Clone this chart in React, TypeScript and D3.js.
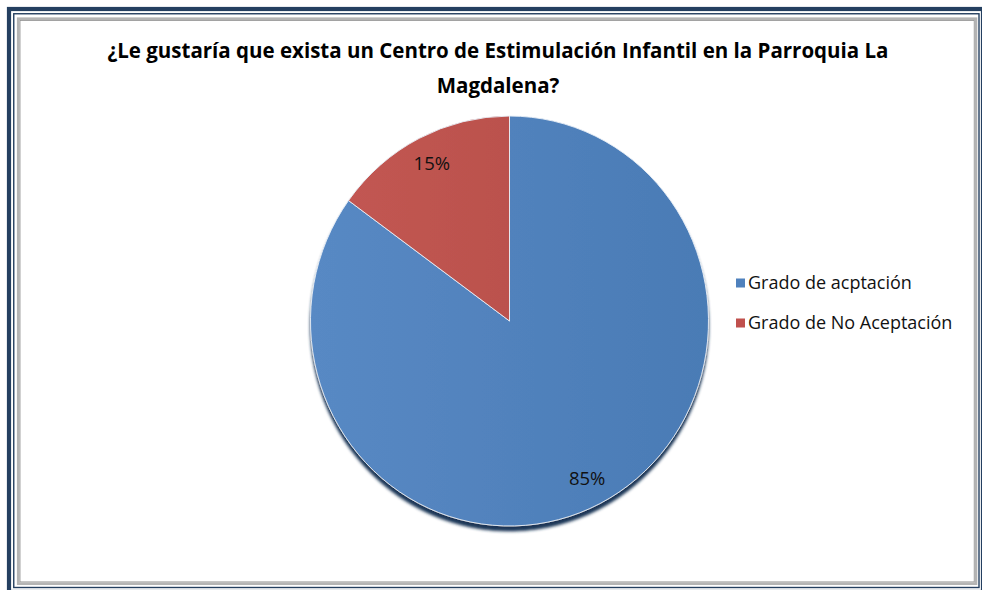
import React from "react";
import * as d3 from "d3";

const titleLines = [
  "¿Le gustaría que exista un Centro de Estimulación Infantil en la Parroquia La",
  "Magdalena?",
];
const categories = ["Grado de acptación", "Grado de No Aceptación"];
const values = [85, 15];
const colors = ["#4f81bd", "#c0504d"];

const W = 982,
  H = 590;

const App = () => {
  const ref = React.useRef<SVGSVGElement | null>(null);

  React.useEffect(() => {
    document.body.style.margin = "0";
    const svg = d3.select(ref.current);
    svg.selectAll("*").remove();

    const defs = svg.append("defs");
    const grad = defs
      .append("linearGradient")
      .attr("id", "blueGrad")
      .attr("x1", "0%")
      .attr("y1", "0%")
      .attr("x2", "100%")
      .attr("y2", "0%");
    grad.append("stop").attr("offset", "0%").attr("stop-color", "#5889c4");
    grad.append("stop").attr("offset", "100%").attr("stop-color", "#4a7bb5");
    const gradR = defs
      .append("linearGradient")
      .attr("id", "redGrad")
      .attr("x1", "0%")
      .attr("y1", "0%")
      .attr("x2", "100%")
      .attr("y2", "0%");
    gradR.append("stop").attr("offset", "0%").attr("stop-color", "#c25752");
    gradR.append("stop").attr("offset", "100%").attr("stop-color", "#bb514d");

    const shadow = defs
      .append("filter")
      .attr("id", "shadow")
      .attr("x", "-10%")
      .attr("y", "-10%")
      .attr("width", "120%")
      .attr("height", "130%");
    shadow
      .append("feGaussianBlur")
      .attr("in", "SourceAlpha")
      .attr("stdDeviation", 1.6);
    shadow.append("feOffset").attr("dy", 4.5).attr("result", "off");
    shadow
      .append("feFlood")
      .attr("flood-color", "#1a3556")
      .attr("flood-opacity", 1);
    shadow.append("feComposite").attr("in2", "off").attr("operator", "in");
    const merge = shadow.append("feMerge");
    merge.append("feMergeNode");
    merge.append("feMergeNode").attr("in", "SourceGraphic");

    // background + frame
    svg.append("rect").attr("width", W).attr("height", H).attr("fill", "#fff");
    svg
      .append("rect")
      .attr("x", 9)
      .attr("y", 9)
      .attr("width", 974)
      .attr("height", 583)
      .attr("fill", "none")
      .attr("stroke", "#243f60")
      .attr("stroke-width", 4.2);
    svg
      .append("rect")
      .attr("x", 13.75)
      .attr("y", 13.75)
      .attr("width", 965.25)
      .attr("height", 573.75)
      .attr("fill", "none")
      .attr("stroke", "#243f60")
      .attr("stroke-width", 1.4);
    svg
      .append("rect")
      .attr("x", 18.2)
      .attr("y", 18.7)
      .attr("width", 957.8)
      .attr("height", 565)
      .attr("fill", "none")
      .attr("stroke", "#b4b4b4")
      .attr("stroke-width", 2.6);
    svg
      .append("rect")
      .attr("x", 20)
      .attr("y", 20.5)
      .attr("width", 954.2)
      .attr("height", 561.4)
      .attr("fill", "none")
      .attr("stroke", "#8c8c8c")
      .attr("stroke-width", 0.8);

    // title
    svg
      .append("g")
      .selectAll("text")
      .data(titleLines)
      .join("text")
      .attr("x", 498)
      .attr("y", (d, i) => 58 + i * 35)
      .attr("text-anchor", "middle")
      .attr("font-family", "'Open Sans', sans-serif")
      .attr("font-weight", 700)
      .attr("font-size", 20.5)
      .attr("fill", "#000")
      .text((d) => d);

    // pie
    const cx = 509.5,
      cy = 321,
      R = 199,
      sy = 1.03;
    const pie = d3.pie<number>().sort(null)(values);
    const arc = d3.arc<d3.PieArcDatum<number>>().innerRadius(0).outerRadius(R);
    const labelArc = d3
      .arc<d3.PieArcDatum<number>>()
      .innerRadius(R * 0.86)
      .outerRadius(R * 0.86);

    const g = svg
      .append("g")
      .attr("transform", `translate(${cx},${cy}) scale(1,${sy})`);
    const slices = g.append("g").attr("filter", "url(#shadow)");
    slices
      .selectAll("path")
      .data(pie)
      .join("path")
      .attr("d", arc)
      .attr("fill", (d, i) => (i === 0 ? "url(#blueGrad)" : "url(#redGrad)"))
      .attr("stroke", "#e8eef6")
      .attr("stroke-width", 0.9);

    const total = d3.sum(values);
    svg
      .append("g")
      .selectAll("text")
      .data(pie)
      .join("text")
      .attr("x", (d) => cx + labelArc.centroid(d)[0])
      .attr("y", (d) => cy + labelArc.centroid(d)[1] * sy)
      .attr("dy", "0.35em")
      .attr("text-anchor", "middle")
      .attr("font-family", "'Open Sans', sans-serif")
      .attr("font-size", 18.5)
      .attr("fill", "#111")
      .text((d) => `${Math.round((d.value / total) * 100)}%`);

    // legend
    const legend = svg
      .append("g")
      .selectAll("g")
      .data(categories)
      .join("g")
      .attr("transform", (d, i) => `translate(736,${283 + i * 40})`);
    legend
      .append("rect")
      .attr("x", 0)
      .attr("y", -4.5)
      .attr("width", 9)
      .attr("height", 9)
      .attr("fill", (d, i) => colors[i]);
    legend
      .append("text")
      .attr("x", 12)
      .attr("dy", "0.35em")
      .attr("font-family", "'Open Sans', sans-serif")
      .attr("font-size", 18)
      .attr("fill", "#111")
      .text((d) => d);
  }, []);

  return <svg ref={ref} width={W} height={H} style={{ display: "block" }} />;
};

export default App;
